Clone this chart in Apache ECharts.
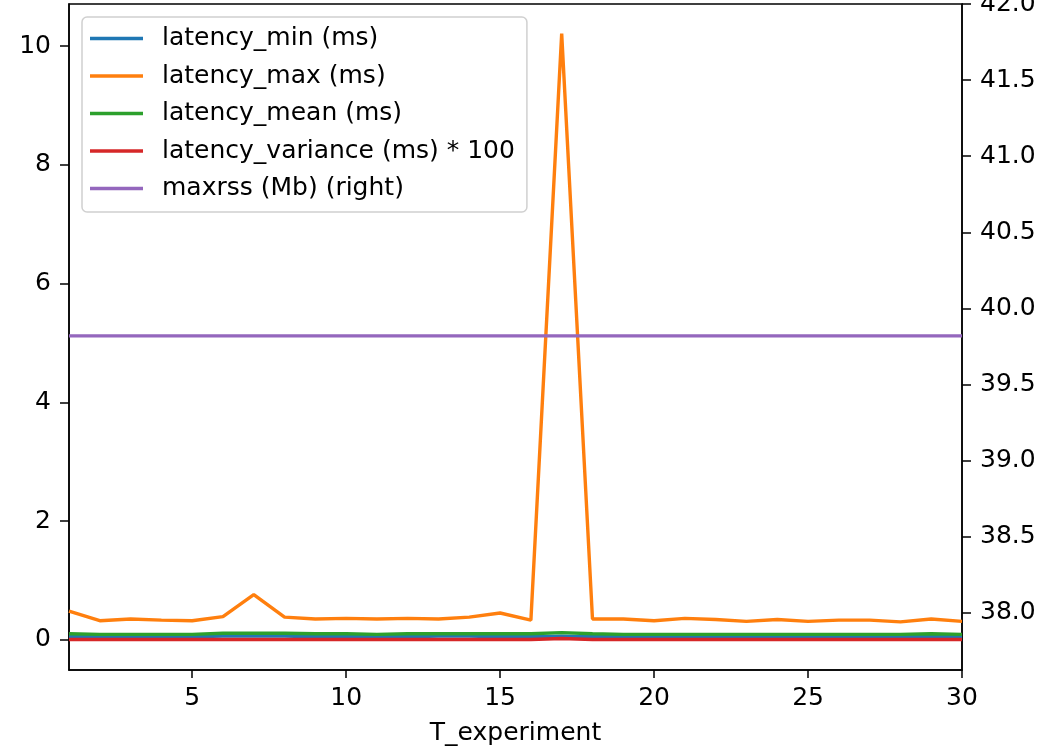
<!DOCTYPE html>
<html>
<head>
<meta charset="utf-8">
<script src="https://cdn.jsdelivr.net/npm/echarts@6/dist/echarts.min.js"></script>
<style>html,body{margin:0;padding:0;background:#fff}#c{width:1055px;height:749px}</style>
</head>
<body>
<div id="c"></div>
<script>
const T_experiment = [1,2,3,4,5,6,7,8,9,10,11,12,13,14,15,16,17,18,19,20,21,22,23,24,25,26,27,28,29,30];
const latency_min = [0.05,0.05,0.05,0.05,0.05,0.06,0.06,0.06,0.05,0.05,0.05,0.05,0.06,0.06,0.05,0.05,0.06,0.05,0.05,0.05,0.05,0.05,0.05,0.05,0.05,0.05,0.05,0.05,0.05,0.05];
const latency_max = [0.48,0.32,0.35,0.33,0.32,0.39,0.76,0.38,0.35,0.36,0.35,0.36,0.35,0.38,0.45,0.33,10.21,0.35,0.35,0.32,0.36,0.34,0.31,0.34,0.31,0.33,0.33,0.30,0.35,0.31];
const latency_mean = [0.10,0.09,0.09,0.09,0.09,0.11,0.11,0.11,0.10,0.10,0.09,0.10,0.10,0.10,0.10,0.10,0.12,0.10,0.09,0.09,0.09,0.09,0.09,0.09,0.09,0.09,0.09,0.09,0.10,0.09];
const latency_variance_x100 = [0.005,0.003,0.003,0.003,0.003,0.004,0.006,0.004,0.003,0.003,0.003,0.003,0.003,0.003,0.004,0.003,0.02,0.003,0.003,0.003,0.003,0.003,0.003,0.003,0.003,0.003,0.003,0.003,0.003,0.003];
const maxrss = [39.82,39.82,39.82,39.82,39.82,39.82,39.82,39.82,39.82,39.82,39.82,39.82,39.82,39.82,39.82,39.82,39.82,39.82,39.82,39.82,39.82,39.82,39.82,39.82,39.82,39.82,39.82,39.82,39.82,39.82];
const xTicks = [5,10,15,20,25,30];
const leftTicks = [0,2,4,6,8,10];
const rightTicks = [38.0,38.5,39.0,39.5,40.0,40.5,41.0,41.5,42.0];
const seriesNames = ['latency_min (ms)','latency_max (ms)','latency_mean (ms)','latency_variance (ms) * 100','maxrss (Mb) (right)'];
const colors = ['#1f77b4','#ff7f0e','#2ca02c','#d62728','#9467bd'];

const pairs = arr => T_experiment.map((x,i)=>[x,arr[i]]);
const font = 'DejaVu Sans';
const fs = 25;

const chart = echarts.init(document.getElementById('c'), null, {renderer:'canvas'});
const mk = (i, arr, yIdx) => ({
  name: seriesNames[i], type:'line', data: pairs(arr), yAxisIndex: yIdx,
  showSymbol:false, symbol:'none', animation:false,
  lineStyle:{color:colors[i], width:3.4}, itemStyle:{color:colors[i]}, z: 2+i
});
chart.setOption({
  animation:false,
  textStyle:{fontFamily:font},
  color: colors,
  grid:{left:69, right:93, top:4, bottom:79, show:true, borderColor:'#000', borderWidth:1.5, containLabel:false, outerBoundsMode:'none'},
  legend:{
    orient:'vertical', left:82, top:17,
    data: seriesNames,
    backgroundColor:'#fff', borderColor:'#d0d0d0', borderWidth:1.5, borderRadius:5,
    padding:[9,12,11,8], itemGap:12.5, itemWidth:53, itemHeight:3.4, icon:'rect',
    textStyle:{fontFamily:font, fontSize:fs, color:'#000', lineHeight:25, padding:[0,0,0,14]},
    selectedMode:false
  },
  xAxis:{
    type:'value', min:1, max:30,
    name:'T_experiment', nameLocation:'middle', nameGap:51,
    nameTextStyle:{fontFamily:font, fontSize:fs, color:'#000'},
    axisLine:{show:true, onZero:false, lineStyle:{color:'#000', width:1.5}},
    axisTick:{show:true, length:8, inside:false, customValues:xTicks, lineStyle:{color:'#000', width:1.5}},
    axisLabel:{customValues:xTicks, fontFamily:font, fontSize:fs, color:'#000', margin:16},
    splitLine:{show:false}
  },
  yAxis:[{
    type:'value', min:-0.51, max:10.71, position:'left',
    axisLine:{show:true, onZero:false, lineStyle:{color:'#000', width:1.5}},
    axisTick:{show:true, length:9, customValues:leftTicks, lineStyle:{color:'#000', width:1.5}},
    axisLabel:{customValues:leftTicks, fontFamily:font, fontSize:fs, color:'#000', margin:18},
    splitLine:{show:false}
  },{
    type:'value', min:37.625, max:42.0, position:'right',
    axisLine:{show:true, onZero:false, lineStyle:{color:'#000', width:1.5}},
    axisTick:{show:true, length:9, customValues:rightTicks, lineStyle:{color:'#000', width:1.5}},
    axisLabel:{customValues:rightTicks, fontFamily:font, fontSize:fs, color:'#000', margin:18, formatter:v=>v.toFixed(1)},
    splitLine:{show:false}
  }],
  series:[
    mk(0, latency_min, 0),
    mk(1, latency_max, 0),
    mk(2, latency_mean, 0),
    mk(3, latency_variance_x100, 0),
    mk(4, maxrss, 1)
  ]
});
</script>
</body>
</html>
